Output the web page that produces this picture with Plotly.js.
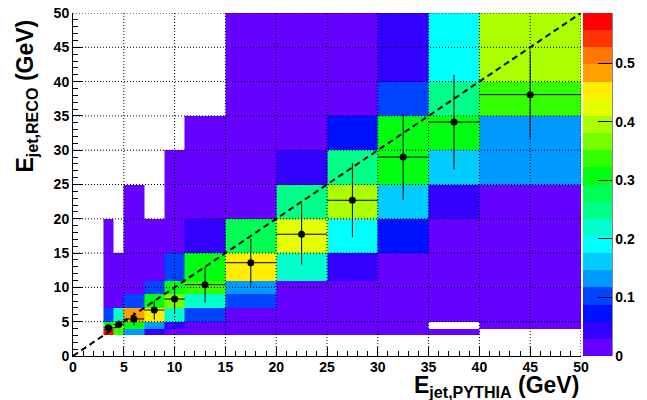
<!DOCTYPE html>
<html><head><meta charset="utf-8">
<script src="https://cdn.plot.ly/plotly-3.0.1.min.js"></script>
<style>html,body{margin:0;padding:0;background:#fff}</style>
</head><body>
<div id="chart" style="width:647px;height:400px"></div>
<script>
// Bin edges (GeV), same binning for PYTHIA (x) and RECO (y)
const pythiaEdges = [3,4,5,7,9,11,15,20,25,30,35,40,50];
const recoEdges   = [3,4,5,7,9,11,15,20,25,30,35,40,50];

// Response matrix: rows = RECO bins (y), columns = PYTHIA bins (x); null = empty bin
const row_3_4   = [0.57,0.34,0.13,0.045,0.02,0.01,0.01,0.01,0.01,0.01,0.01,null];
const row_4_5   = [0.31,0.37,0.31,0.13,0.045,0.02,0.01,0.01,0.01,0.01,null,0.01];
const row_5_7   = [0.10,0.22,0.48,0.45,0.22,0.10,0.02,0.01,0.01,0.01,0.01,0.01];
const row_7_9   = [0.02,0.02,0.10,0.31,0.37,0.22,0.10,0.02,0.01,0.01,0.01,0.01];
const row_9_11  = [0.01,0.01,0.02,0.10,0.31,0.34,0.13,0.02,0.01,0.01,0.01,0.01];
const row_11_15 = [0.01,0.01,0.01,0.02,0.10,0.31,0.45,0.22,0.045,0.01,0.01,0.01];
const row_15_20 = [0.01,null,0.01,0.01,0.02,0.045,0.28,0.425,0.19,0.07,0.02,0.01];
const row_20_25 = [null,null,0.01,null,0.01,0.01,0.02,0.25,0.40,0.16,0.045,0.02];
const row_25_30 = [null,null,null,null,0.01,0.01,0.01,0.045,0.25,0.31,0.16,0.13];
const row_30_35 = [null,null,null,null,null,0.01,0.01,0.02,0.07,0.31,0.31,0.13];
const row_35_40 = [null,null,null,null,null,null,0.01,0.01,0.02,0.10,0.25,0.34];
const row_40_50 = [null,null,null,null,null,null,0.01,0.01,0.01,0.045,0.19,0.40];

// Mean RECO energy per PYTHIA bin (profile points)
const profileX    = [3.5,4.5,6,8,10,13,17.5,22.5,27.5,32.5,37.5,45];
const profileY    = [4.1,4.6,5.4,6.7,8.3,10.4,13.6,17.75,22.7,29.0,34.1,38.1];
const profileXErr = [0.5,0.5,1,1,1,2,2.5,2.5,2.5,2.5,2.5,5];
const profileYErr = [0.5,0.6,1.0,1.4,2.1,2.6,3.5,4.4,5.4,6.3,6.9,6.4];

// Diagonal reference line y = x
const diagonal = [0, 50];

// Colour bar
const zMax = 0.5855;
const colorTicks = [0,0.1,0.2,0.3,0.4,0.5];
const palette = ['#6600ff','#3300ff','#0011ff','#0044ff','#0099ff','#00ccff','#00ffff','#00ffcc','#00ff88','#00ff55',
                 '#00ff11','#33ff00','#77ff00','#aaff00','#e5ff00','#ffee00','#ffa000','#ff7700','#ff3300','#ff0000'];

const zMatrix = [row_3_4,row_4_5,row_5_7,row_7_9,row_9_11,row_11_15,row_15_20,row_20_25,row_25_30,row_30_35,row_35_40,row_40_50];

const colorscale = [];
palette.forEach((c,i)=>{ colorscale.push([i/palette.length,c]); colorscale.push([(i+1)/palette.length,c]); });

const FONT = 'Liberation Sans, Arial, Helvetica, sans-serif';

const heat = {
  type:'heatmap', x: pythiaEdges, y: recoEdges, z: zMatrix,
  zmin:0, zmax:zMax, colorscale: colorscale, zsmooth:false, hoverongaps:false,
  colorbar:{
    thickness:29, thicknessmode:'pixels', len:1, lenmode:'fraction',
    x:1.004, xanchor:'left', xpad:0, y:0.5, yanchor:'middle', ypad:0,
    outlinewidth:0, ticks:'inside', ticklen:14, tickwidth:1, tickcolor:'black',
    tickvals: colorTicks, tickfont:{family:FONT, size:14, weight:'bold', color:'black'}
  }
};
const diag = {
  type:'scatter', mode:'lines', x: diagonal, y: diagonal,
  line:{color:'black', width:2, dash:'6px,4px'}, hoverinfo:'skip'
};
const prof = {
  type:'scatter', mode:'markers', x: profileX, y: profileY,
  marker:{color:'black', size:7},
  error_x:{type:'data', array: profileXErr, color:'black', thickness:1, width:0},
  error_y:{type:'data', array: profileYErr, color:'black', thickness:1, width:0}
};

const shapes = [];
for (let v = 5; v <= 50; v += 5) {
  shapes.push({type:'line', layer:'above', xref:'x', yref:'paper', x0:v, x1:v, y0:0, y1:1,
               line:{color:'black', width:1, dash:'1px,2px'}});
  shapes.push({type:'line', layer:'above', xref:'paper', yref:'y', x0:0, x1:1, y0:v, y1:v,
               line:{color:'black', width:1, dash:'1px,2px'}});
}
// colour bar axis line (right edge)
shapes.push({type:'line', layer:'above', xref:'paper', yref:'paper', x0:1.061, x1:1.061, y0:0, y1:1,
             line:{color:'black', width:1}});

const axisCommon = {
  range:[0,50], dtick:5, tick0:0, ticks:'inside', ticklen:9, tickwidth:1, tickcolor:'black',
  showline:true, linecolor:'black', linewidth:1, mirror:false, showgrid:false, zeroline:false,
  tickfont:{family:FONT, size:14, weight:'bold', color:'black'},
  minor:{dtick:1, ticks:'inside', ticklen:5, tickwidth:1, tickcolor:'black', showgrid:false}
};

const layout = {
  width:647, height:400,
  margin:{l:73, r:66, t:13, b:44, autoexpand:false},
  paper_bgcolor:'white', plot_bgcolor:'white', showlegend:false,
  xaxis: Object.assign({}, axisCommon, {ticklabelstandoff:-2}),
  yaxis: Object.assign({}, axisCommon),
  shapes: shapes,
  annotations:[
    {text:'E<sub>jet,PYTHIA</sub> (GeV)', xref:'paper', yref:'paper', x:0.998, y:-0.045,
     xanchor:'right', yanchor:'top', showarrow:false, borderpad:0,
     font:{family:FONT, size:23, weight:'bold', color:'black'}},
    {text:'E<sub>jet,RECO</sub> (GeV)', xref:'paper', yref:'paper', x:-0.0906, y:0.985,
     xanchor:'center', yanchor:'top', textangle:-90, showarrow:false, borderpad:0,
     font:{family:FONT, size:23, weight:'bold', color:'black'}}
  ]
};

Plotly.newPlot('chart', [heat, prof, diag], layout, {displayModeBar:false, staticPlot:true});
</script>
</body></html>
